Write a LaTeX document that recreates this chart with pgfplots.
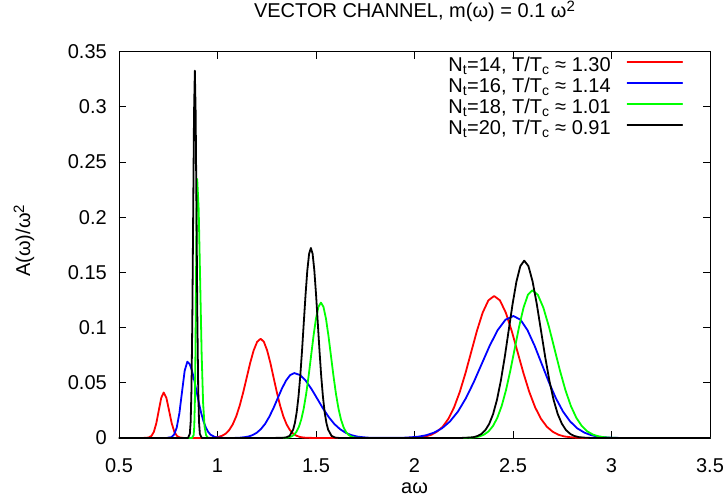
\documentclass[border=0pt]{standalone}
\usepackage{fontspec}
\setmainfont{Liberation Sans}
\usepackage{pgfplots}
\pgfplotsset{compat=1.18}
\newcommand{\sq}{\raisebox{6bp}{\fontsize{15bp}{15bp}\selectfont 2}}
\begin{document}
\begin{tikzpicture}[font=\fontsize{20bp}{24bp}\selectfont]
\path[use as bounding box] (-119bp,-64bp) rectangle (608bp,438bp);
\begin{axis}[
  at={(0,0)}, anchor=south west,
  scale only axis, width=591bp, height=386.5bp,
  xmin=0.5, xmax=3.5, ymin=0, ymax=0.35,
  xtick={0.5,1,1.5,2,2.5,3,3.5}, xticklabels={0.5,1,1.5,2,2.5,3,3.5},
  ytick={0,0.05,0.1,0.15,0.2,0.25,0.3,0.35},
  yticklabels={0,0.05,0.1,0.15,0.2,0.25,0.3,0.35},
  scaled ticks=false,
  tick align=inside, major tick length=7bp,
  every tick/.style={black, line width=0.8bp},
  axis line style={line width=0.9bp},
  xticklabel style={anchor=base, inner sep=0pt, yshift=-34bp},
  yticklabel style={anchor=east, inner sep=0pt, xshift=-12bp},
  title={VECTOR CHANNEL, m(ω) = 0.1 ω\sq},
  title style={at={(axis description cs:0.5,1)}, anchor=base, yshift=28bp, inner sep=0pt},
  xlabel={aω},
  xlabel style={at={(axis description cs:0.5,0)}, anchor=base, yshift=-55bp, inner sep=0pt},
  ylabel={A(ω)/ω\sq},
  ylabel style={at={(axis description cs:-0.1607,0.51)}, anchor=center, inner sep=0pt},
  legend cell align=right, legend plot pos=right,
  legend style={at={(axis description cs:0.9543,0.987)}, anchor=north east,
    draw=none, fill=none, inner sep=0pt, outer sep=0pt, row sep=0pt, column sep=16bp,
    nodes={inner sep=0pt, text height=14.5bp, text depth=6.5bp}},
  legend image code/.code={\draw[#1, line width=1.3bp] (0bp,5bp) -- (55bp,5bp);},
  every axis plot/.append style={line width=1.8bp, line join=round, line cap=round},
]
\addplot[red] coordinates {(0.5,0) (0.62,0) (0.65,0.0004) (0.665,0.0019) (0.677,0.0056) (0.6895,0.0134) (0.702,0.0250) (0.7145,0.0364) (0.727,0.0412) (0.7405,0.0364) (0.754,0.0250) (0.7675,0.0134) (0.781,0.0056) (0.7945,0.0018) (0.808,0.0005) (0.83,0) (0.95,0) (0.9705,0.0002) (0.9883,0.0005) (1.006,0.0010) (1.0238,0.0021) (1.0415,0.0039) (1.0593,0.0072) (1.077,0.0122) (1.0948,0.0195) (1.1125,0.0292) (1.1303,0.0412) (1.148,0.0545) (1.1658,0.0679) (1.1835,0.0793) (1.2013,0.0871) (1.219,0.0899) (1.2355,0.0871) (1.252,0.0793) (1.2685,0.0679) (1.285,0.0545) (1.3015,0.0412) (1.318,0.0292) (1.3345,0.0195) (1.351,0.0122) (1.3675,0.0072) (1.384,0.0039) (1.4005,0.0021) (1.417,0.0010) (1.4335,0.0005) (1.45,0.0002) (1.5,0) (1.95,0) (1.998,0.0003) (2.027,0.0007) (2.056,0.0014) (2.085,0.0029) (2.114,0.0057) (2.143,0.0102) (2.172,0.0174) (2.201,0.0278) (2.23,0.0418) (2.259,0.0589) (2.288,0.0780) (2.317,0.0971) (2.346,0.1135) (2.375,0.1246) (2.404,0.1286) (2.4338,0.1246) (2.4635,0.1135) (2.4933,0.0971) (2.523,0.0780) (2.5528,0.0589) (2.5825,0.0418) (2.6123,0.0278) (2.642,0.0174) (2.6718,0.0102) (2.7015,0.0057) (2.7313,0.0029) (2.761,0.0014) (2.7908,0.0007) (2.8205,0.0003) (2.87,0) (3.5,0)};
\addlegendentry{N\textsubscript{t}=14, T/T\textsubscript{c} ≈ 1.30}
\addplot[blue] coordinates {(0.5,0) (0.74,0) (0.766,0.0008) (0.7795,0.0030) (0.793,0.0094) (0.8065,0.0224) (0.82,0.0419) (0.8335,0.0610) (0.847,0.0691) (0.8588,0.0670) (0.8705,0.0610) (0.8823,0.0522) (0.894,0.0419) (0.9058,0.0316) (0.9175,0.0224) (0.9293,0.0149) (0.941,0.0094) (0.9528,0.0055) (0.9645,0.0030) (0.988,0.0008) (1.035,0) (1.0925,0.0001) (1.1138,0.0003) (1.135,0.0007) (1.1563,0.0013) (1.1775,0.0026) (1.1988,0.0047) (1.22,0.0080) (1.2413,0.0127) (1.2625,0.0191) (1.2838,0.0269) (1.305,0.0357) (1.326,0.0444) (1.3475,0.0519) (1.369,0.0570) (1.39,0.0588) (1.419,0.0570) (1.448,0.0519) (1.477,0.0444) (1.506,0.0357) (1.535,0.0269) (1.564,0.0191) (1.593,0.0127) (1.622,0.0080) (1.651,0.0047) (1.68,0.0026) (1.709,0.0013) (1.738,0.0007) (1.767,0.0003) (1.796,0.0001) (1.85,0.0001) (1.9385,0.0002) (1.9788,0.0006) (2.019,0.0012) (2.0593,0.0025) (2.0995,0.0049) (2.1398,0.0088) (2.18,0.0150) (2.2203,0.0239) (2.2605,0.0359) (2.3008,0.0506) (2.341,0.0670) (2.3813,0.0834) (2.4215,0.0975) (2.4618,0.1071) (2.502,0.1105) (2.538,0.1071) (2.574,0.0975) (2.61,0.0834) (2.646,0.0670) (2.682,0.0506) (2.718,0.0359) (2.754,0.0239) (2.79,0.0150) (2.826,0.0088) (2.862,0.0049) (2.898,0.0025) (2.934,0.0012) (2.97,0.0006) (3.006,0.0002) (3.06,0) (3.5,0)};
\addlegendentry{N\textsubscript{t}=16, T/T\textsubscript{c} ≈ 1.14}
\addplot[green] coordinates {(0.5,0) (0.87,0) (0.879,0.0026) (0.882,0.0103) (0.885,0.0317) (0.888,0.0761) (0.891,0.1422) (0.894,0.2069) (0.897,0.2345) (0.9045,0.2069) (0.912,0.1422) (0.9195,0.0761) (0.927,0.0317) (0.9345,0.0103) (0.942,0.0026) (0.9495,0.0005) (0.96,0) (1.32,0) (1.35,0.0003) (1.3625,0.0006) (1.375,0.0014) (1.3875,0.0028) (1.4,0.0054) (1.4125,0.0098) (1.425,0.0166) (1.4375,0.0265) (1.45,0.0398) (1.4625,0.0561) (1.475,0.0744) (1.4875,0.0925) (1.5,0.1082) (1.5125,0.1188) (1.525,0.1226) (1.5378,0.1188) (1.5505,0.1082) (1.5633,0.0925) (1.576,0.0744) (1.5888,0.0561) (1.6015,0.0398) (1.6143,0.0265) (1.627,0.0166) (1.6398,0.0098) (1.6525,0.0054) (1.6653,0.0028) (1.678,0.0014) (1.6908,0.0006) (1.7035,0.0003) (1.74,0) (2.25,0) (2.2865,0.0003) (2.3088,0.0007) (2.331,0.0015) (2.3533,0.0031) (2.3755,0.0059) (2.3978,0.0107) (2.42,0.0181) (2.4423,0.0289) (2.4645,0.0434) (2.4868,0.0613) (2.509,0.0812) (2.5313,0.1010) (2.5535,0.1181) (2.5758,0.1297) (2.598,0.1338) (2.626,0.1297) (2.654,0.1181) (2.682,0.1010) (2.71,0.0812) (2.738,0.0613) (2.766,0.0434) (2.794,0.0289) (2.822,0.0181) (2.85,0.0107) (2.878,0.0059) (2.906,0.0031) (2.934,0.0015) (2.962,0.0007) (2.99,0.0003) (3.04,0) (3.5,0)};
\addlegendentry{N\textsubscript{t}=18, T/T\textsubscript{c} ≈ 1.01}
\addplot[black] coordinates {(0.5,0) (0.85,0) (0.8595,0.0037) (0.8638,0.0146) (0.868,0.0450) (0.8722,0.1080) (0.8765,0.2018) (0.8808,0.2936) (0.885,0.3327) (0.8892,0.2936) (0.8935,0.2018) (0.8978,0.1080) (0.902,0.0450) (0.9062,0.0146) (0.9105,0.0037) (0.92,0) (1.33,0.0001) (1.348,0.0005) (1.366,0.0019) (1.384,0.0076) (1.393,0.0137) (1.402,0.0233) (1.411,0.0372) (1.42,0.0559) (1.429,0.0788) (1.438,0.1044) (1.447,0.1299) (1.456,0.1519) (1.465,0.1668) (1.474,0.1721) (1.4828,0.1668) (1.4915,0.1519) (1.5003,0.1299) (1.509,0.1044) (1.5178,0.0788) (1.5265,0.0559) (1.5353,0.0372) (1.544,0.0233) (1.5528,0.0137) (1.5615,0.0076) (1.579,0.0019) (1.5965,0.0004) (1.62,0) (2.23,0) (2.2805,0.0004) (2.3003,0.0008) (2.32,0.0018) (2.3398,0.0037) (2.3595,0.0071) (2.3793,0.0128) (2.399,0.0217) (2.4188,0.0347) (2.4385,0.0521) (2.4583,0.0735) (2.478,0.0974) (2.4978,0.1212) (2.5175,0.1417) (2.5373,0.1557) (2.557,0.1606) (2.5783,0.1557) (2.5995,0.1417) (2.6208,0.1212) (2.642,0.0974) (2.6633,0.0735) (2.6845,0.0521) (2.7058,0.0347) (2.727,0.0217) (2.7483,0.0128) (2.7695,0.0071) (2.7908,0.0037) (2.812,0.0018) (2.8333,0.0008) (2.8545,0.0004) (2.9,0) (3.5,0)};
\addlegendentry{N\textsubscript{t}=20, T/T\textsubscript{c} ≈ 0.91}
\end{axis}
\end{tikzpicture}
\end{document}
